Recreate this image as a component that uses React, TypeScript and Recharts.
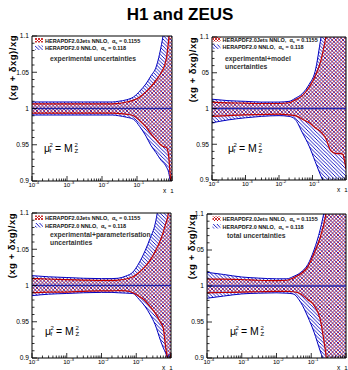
import React from "react";
import { ComposedChart, Area, XAxis, YAxis, ReferenceLine, ReferenceArea } from "recharts";

const FONT = '"Liberation Sans", Arial, Helvetica, sans-serif';

// x grid (log scale)
const xValues = [0.0001, 0.0003, 0.001, 0.003, 0.01, 0.02, 0.03, 0.05, 0.08, 0.12, 0.18, 0.25, 0.35, 0.5, 0.6, 0.7, 0.8, 0.9, 1];

// experimental uncertainties
const expBlueHi = [1.009, 1.009, 1.009, 1.009, 1.009, 1.009, 1.01, 1.012, 1.016, 1.024, 1.034, 1.045, 1.057, 1.088, 1.11, 1.13, 1.14, 1.15, 1.16];
const expBlueLo = [0.991, 0.991, 0.991, 0.991, 0.991, 0.991, 0.99, 0.988, 0.985, 0.975, 0.962, 0.949, 0.939, 0.928, 0.924, 0.919, 0.912, 0.898, 0.88];
const expRedHi = [1.0065, 1.0065, 1.0065, 1.0065, 1.0065, 1.0065, 1.007, 1.009, 1.0115, 1.016, 1.023, 1.03, 1.039, 1.05, 1.058, 1.071, 1.094, 1.12, 1.14];
const expRedLo = [0.9935, 0.9935, 0.9935, 0.9935, 0.9935, 0.9935, 0.993, 0.992, 0.99, 0.983, 0.9745, 0.965, 0.957, 0.949, 0.947, 0.946, 0.935, 0.905, 0.89];

// experimental+model
const modelBlueHi = [1.013, 1.011, 1.01, 1.009, 1.009, 1.01, 1.014, 1.021, 1.034, 1.052, 1.1, 1.14, 1.16, 1.16, 1.16, 1.16, 1.16, 1.16, 1.16];
const modelBlueLo = [0.98, 0.984, 0.987, 0.989, 0.99, 0.989, 0.985, 0.966, 0.947, 0.926, 0.905, 0.89, 0.87, 0.86, 0.86, 0.86, 0.86, 0.86, 0.86];
const modelRedHi = [1.009, 1.008, 1.0075, 1.007, 1.007, 1.008, 1.012, 1.018, 1.03, 1.045, 1.068, 1.1, 1.14, 1.16, 1.16, 1.16, 1.16, 1.16, 1.16];
const modelRedLo = [0.989, 0.99, 0.991, 0.9915, 0.992, 0.991, 0.99, 0.985, 0.98, 0.973, 0.967, 0.958, 0.941, 0.937, 0.937, 0.937, 0.936, 0.927, 0.915];

// experimental+parameterisation
const paramBlueHi = [1.0136, 1.012, 1.011, 1.01, 1.0095, 1.0095, 1.01, 1.013, 1.0185, 1.031, 1.048, 1.065, 1.085, 1.13, 1.16, 1.16, 1.16, 1.16, 1.16];
const paramBlueLo = [0.986, 0.988, 0.989, 0.99, 0.9905, 0.9905, 0.99, 0.9895, 0.989, 0.981, 0.971, 0.96, 0.946, 0.924, 0.914, 0.907, 0.9, 0.905, 0.9];
const paramRedHi = [1.0095, 1.009, 1.008, 1.0075, 1.007, 1.007, 1.0075, 1.009, 1.012, 1.018, 1.026, 1.035, 1.047, 1.063, 1.074, 1.085, 1.094, 1.11, 1.12];
const paramRedLo = [0.99, 0.991, 0.991, 0.992, 0.9925, 0.9925, 0.993, 0.9925, 0.99, 0.985, 0.979, 0.971, 0.962, 0.949, 0.941, 0.915, 0.9, 0.898, 0.906];

// total uncertainties
const totalBlueHi = [1.019, 1.016, 1.0125, 1.011, 1.01, 1.01, 1.013, 1.019, 1.03, 1.05, 1.078, 1.11, 1.15, 1.16, 1.16, 1.16, 1.16, 1.16, 1.16];
const totalBlueLo = [0.983, 0.986, 0.989, 0.99, 0.9905, 0.99, 0.989, 0.977, 0.957, 0.936, 0.91, 0.89, 0.86, 0.85, 0.85, 0.85, 0.85, 0.85, 0.85];
const totalRedHi = [1.0097, 1.0095, 1.009, 1.008, 1.0075, 1.008, 1.011, 1.017, 1.027, 1.045, 1.067, 1.094, 1.14, 1.16, 1.16, 1.16, 1.16, 1.16, 1.16];
const totalRedLo = [0.9905, 0.991, 0.9915, 0.992, 0.9925, 0.9925, 0.992, 0.989, 0.981, 0.973, 0.954, 0.913, 0.86, 0.85, 0.85, 0.85, 0.85, 0.85, 0.85];

// ticks
const xMajor = [0.0001, 0.001, 0.01, 0.1, 1];
const xExponent = ["-4", "-3", "-2", "-1", ""];
const xMinor = [
  0.0002, 0.0003, 0.0004, 0.0005, 0.0006, 0.0007, 0.0008, 0.0009,
  0.002, 0.003, 0.004, 0.005, 0.006, 0.007, 0.008, 0.009,
  0.02, 0.03, 0.04, 0.05, 0.06, 0.07, 0.08, 0.09,
  0.2, 0.3, 0.4, 0.5, 0.6, 0.7, 0.8, 0.9,
];
const yMajor = [0.9, 0.95, 1, 1.05, 1.1];
const yMajorTextLeft = ["0.9", "0.95", "1", "1.05", "1.1"];
const yMajorTextRight = ["0.9", "0.95", "1", "05", "1.1"];
const yMinor = [0.91, 0.92, 0.93, 0.94, 0.96, 0.97, 0.98, 0.99, 1.01, 1.02, 1.03, 1.04, 1.06, 1.07, 1.08, 1.09];

const legendRed = "HERAPDF2.0Jets NNLO,";
const legendRedAs = "0.1155";
const legendBlue = "HERAPDF2.0 NNLO,";
const legendBlueAs = "0.118";

const RED = "#c00000";
const BLUE = "#0000c0";

function rows(bLo: number[], bHi: number[], rLo: number[], rHi: number[]) {
  return xValues.map((x, i) => ({ x, blue: [bLo[i], bHi[i]], red: [rLo[i], rHi[i]] }));
}

const panels = [
  { id: "exp", left: 32, top: 36, w: 140, h: 145, data: rows(expBlueLo, expBlueHi, expRedLo, expRedHi), yText: yMajorTextLeft },
  { id: "model", left: 212, top: 37, w: 134, h: 143, data: rows(modelBlueLo, modelBlueHi, modelRedLo, modelRedHi), yText: yMajorTextRight },
  { id: "param", left: 32, top: 213, w: 139, h: 145, data: rows(paramBlueLo, paramBlueHi, paramRedLo, paramRedHi), yText: yMajorTextLeft },
  { id: "total", left: 207, top: 214, w: 139, h: 144, data: rows(totalBlueLo, totalBlueHi, totalRedLo, totalRedHi), yText: yMajorTextRight },
];

function XTick(props: any) {
  const { x, y, payload } = props;
  const i = xMajor.indexOf(payload.value);
  if (i < 0) return <line x1={x} x2={x} y1={y} y2={y - 2.5} stroke="#000" strokeWidth={0.8} />;
  return (
    <g fontFamily={FONT}>
      <line x1={x} x2={x} y1={y} y2={y - 5} stroke="#000" strokeWidth={0.8} />
      {xExponent[i] ? (
        <text x={x - 3.6} y={y + 6} fontSize={6.2} fill="#000">
          10<tspan dy={-2.6} fontSize={4.4}>{xExponent[i]}</tspan>
        </text>
      ) : (
        <text x={x} y={y + 11.5} fontSize={6.2} textAnchor="middle" fill="#000">1</text>
      )}
    </g>
  );
}

function makeYTick(texts: string[]) {
  return (props: any) => {
    const { x, y, payload } = props;
    const ax = x + 3;
    const i = yMajor.findIndex((m) => Math.abs(m - payload.value) < 1e-6);
    if (i < 0) return <line x1={ax} x2={ax + 2.5} y1={y} y2={y} stroke="#000" strokeWidth={0.8} />;
    return (
      <g fontFamily={FONT}>
        <line x1={ax} x2={ax + 5} y1={y} y2={y} stroke="#000" strokeWidth={0.8} />
        <text x={x} y={y + 2.3} fontSize={6.6} textAnchor="end" fill="#000">{texts[i]}</text>
      </g>
    );
  };
}

function Legend({ x, y }: { x: number; y: number }) {
  return (
    <g fontFamily={FONT} fontWeight="bold" fontSize={5.5} fill="#111">
      <rect x={x} y={y - 4.5} width={8} height={4.5} fill="url(#redCross)" />
      <text x={x + 10} y={y}>
        {legendRed}
        <tspan dx={3}>α</tspan>
        <tspan fontSize={3.8} dy={1.2}>s</tspan>
        <tspan dy={-1.2}> = {legendRedAs}</tspan>
      </text>
      <rect x={x} y={y + 3} width={8} height={4.5} fill="url(#blueHatch)" />
      <text x={x + 10} y={y + 7.5}>
        {legendBlue}
        <tspan dx={3}>α</tspan>
        <tspan fontSize={3.8} dy={1.2}>s</tspan>
        <tspan dy={-1.2}> = {legendBlueAs}</tspan>
      </text>
    </g>
  );
}

function Scale({ x, y }: { x: number; y: number }) {
  return (
    <g fontFamily={FONT} fill="#000">
      <text x={x} y={y} fontSize={10.5}>μ</text>
      <text x={x + 5.6} y={y - 5.5} fontSize={6}>2</text>
      <text x={x + 5.6} y={y + 1} fontSize={6}>f</text>
      <text x={x + 11} y={y} fontSize={10.5}>= M</text>
      <text x={x + 30.5} y={y - 5.5} fontSize={6}>2</text>
      <text x={x + 30.5} y={y + 1} fontSize={6}>Z</text>
    </g>
  );
}

function YTitle({ x, y }: { x: number; y: number }) {
  return (
    <text
      x={x}
      y={y}
      transform={`rotate(-90 ${x} ${y})`}
      textAnchor="end"
      fontFamily={FONT}
      fontWeight="bold"
      fontSize={9.5}
      letterSpacing={0.5}
      fill="#000"
    >
      (xg + δxg)/xg
    </text>
  );
}

function Label({ x, y, lines }: { x: number; y: number; lines: string[] }) {
  return (
    <g fontFamily={FONT} fontWeight="bold" fontSize={6.8} fill="#333">
      {lines.map((l, i) => (
        <text key={i} x={x} y={y + i * 8}>{l}</text>
      ))}
    </g>
  );
}

export default function App() {
  return (
    <div style={{ position: "absolute", left: 0, top: 0, width: 348, height: 370, background: "#fff", overflow: "hidden" }}>
      <svg width={0} height={0} style={{ position: "absolute" }}>
        <defs>
          <pattern id="blueHatch" patternUnits="userSpaceOnUse" width={3.6} height={3.6}>
            <path d="M-1,-1 L4.6,4.6 M-1,2.6 L1,4.6 M2.6,-1 L4.6,1" stroke={BLUE} strokeWidth={0.9} />
          </pattern>
          <pattern id="redHatch" patternUnits="userSpaceOnUse" width={3.6} height={3.6}>
            <path d="M-1,4.6 L4.6,-1 M-1,1 L1,-1 M2.6,4.6 L4.6,2.6" stroke={RED} strokeWidth={0.8} />
          </pattern>
          <pattern id="redCross" patternUnits="userSpaceOnUse" width={3} height={3}>
            <path d="M0,0 L3,3 M3,0 L0,3" stroke={RED} strokeWidth={0.8} />
          </pattern>
        </defs>
      </svg>

      {panels.map((p) => (
        <div key={p.id} style={{ position: "absolute", left: p.left - 40, top: p.top - 6 }}>
          <ComposedChart
            width={40 + p.w + 4}
            height={6 + p.h + 22}
            data={p.data}
            margin={{ top: 6, right: 4, left: 0, bottom: 0 }}
          >
            <XAxis
              dataKey="x"
              type="number"
              scale="log"
              domain={[0.0001, 1]}
              allowDataOverflow
              ticks={[...xMajor, ...xMinor]}
              interval={0}
              height={22}
              tickSize={0}
              tickMargin={0}
              tickLine={false}
              axisLine={false}
              tick={<XTick />}
            />
            <YAxis
              type="number"
              domain={[0.9, 1.1]}
              allowDataOverflow
              ticks={[...yMajor, ...yMinor]}
              interval={0}
              width={40}
              tickSize={0}
              tickMargin={3}
              tickLine={false}
              axisLine={false}
              tick={makeYTick(p.yText)}
            />
            <Area
              type="monotone"
              dataKey="blue"
              fill="url(#blueHatch)"
              fillOpacity={1}
              stroke={BLUE}
              strokeWidth={1}
              dot={false}
              activeDot={false}
              isAnimationActive={false}
            />
            <Area
              type="monotone"
              dataKey="red"
              fill="url(#redHatch)"
              fillOpacity={1}
              stroke={RED}
              strokeWidth={1.2}
              dot={false}
              activeDot={false}
              isAnimationActive={false}
            />
            <ReferenceLine y={1} stroke="#2424a8" strokeWidth={1.6} />
            <ReferenceArea x1={0.0001} x2={1} y1={0.9} y2={1.1} fill="none" stroke="#000" strokeWidth={1} />
          </ComposedChart>
        </div>
      ))}

      <svg width={348} height={370} style={{ position: "absolute", left: 0, top: 0, pointerEvents: "none" }}>
        <text x={180} y={20} textAnchor="middle" fontFamily={FONT} fontWeight="bold" fontSize={17} fill="#000">
          H1 and ZEUS
        </text>

        <YTitle x={16} y={35} />
        <YTitle x={196} y={37} />
        <YTitle x={15} y={213} />
        <YTitle x={194.5} y={214} />

        <Legend x={35} y={42.5} />
        <Legend x={212.5} y={41.5} />
        <Legend x={35} y={220} />
        <Legend x={212.5} y={221} />

        <Label x={50} y={61} lines={["experimental uncertainties"]} />
        <Label x={225} y={61} lines={["experimental+model", "uncertainties"]} />
        <Label x={50} y={237} lines={["experimental+parameterisation", "uncertainties"]} />
        <Label x={227} y={238} lines={["total uncertainties"]} />

        <Scale x={44} y={152} />
        <Scale x={228} y={152} />
        <Scale x={45} y={335} />
        <Scale x={230} y={335} />

        <g fontFamily={FONT} fontSize={6.5} fill="#000">
          <text x={163} y={192.5}>x</text>
          <text x={337} y={192}>x</text>
          <text x={162} y={369.5}>x</text>
          <text x={337} y={369.5}>x</text>
        </g>
      </svg>
    </div>
  );
}
